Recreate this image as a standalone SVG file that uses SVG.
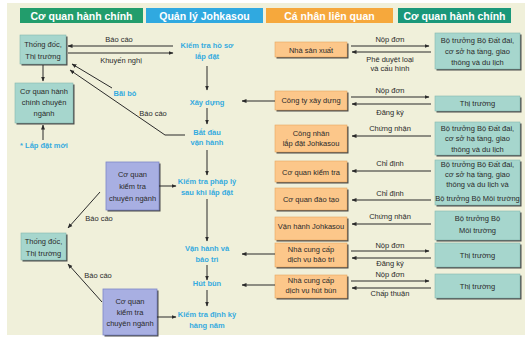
<svg xmlns="http://www.w3.org/2000/svg" width="525" height="345" viewBox="0 0 525 345">
  <defs>
    <marker id="ah" viewBox="0 0 10 10" refX="9" refY="5" markerWidth="5" markerHeight="5" orient="auto-start-reverse" markerUnits="userSpaceOnUse">
      <path d="M0,1 L10,5 L0,9 Z" fill="#2b2b2b"/>
    </marker>
    <style>
      text { font-family: "Liberation Sans", Arial, sans-serif; }
      .hd { font-size: 10.5px; font-weight: bold; fill: #ffffff; text-anchor: middle; }
      .lb { font-size: 7.5px; fill: #2a2a2a; text-anchor: middle; }
      .st { font-size: 7.5px; font-weight: bold; fill: #35abdf; text-anchor: middle; }
      .sh { fill: #4a4a4a; }
      .tl { fill: #a6d6cd; stroke: #86b8ae; stroke-width: 0.6; }
      .or { fill: #fcc78a; stroke: #e6a960; stroke-width: 0.6; }
      .pu { fill: #a8afe2; stroke: #7d87c8; stroke-width: 0.8; }
      .ln { fill: none; stroke: #2b2b2b; stroke-width: 1; }
      .ar { fill: none; stroke: #2b2b2b; stroke-width: 1; marker-end: url(#ah); }
    </style>
  </defs>

  <!-- page and panel -->
  <rect x="0" y="0" width="525" height="345" fill="#ffffff"/>
  <rect x="7" y="3" width="518" height="332" fill="#f0f0da"/>

  <!-- column headers -->
  <g id="headers">
    <rect x="20" y="8" width="123" height="15" fill="#229d6c"/>
    <text class="hd" x="81.5" y="19.5">Cơ quan hành chính</text>
    <rect x="146" y="8" width="117" height="15" fill="#30a9e0"/>
    <text class="hd" x="204.5" y="19.5">Quản lý Johkasou</text>
    <rect x="266" y="8" width="127" height="15" fill="#f6a83c"/>
    <text class="hd" x="329.5" y="19.5">Cá nhân liên quan</text>
    <rect x="398" y="8" width="113" height="15" fill="#1a987a"/>
    <text class="hd" x="454.5" y="19.5">Cơ quan hành chính</text>
  </g>

  <!-- left column: administrative bodies -->
  <g id="gov-1">
    <rect class="sh" x="21.5" y="36.5" width="46" height="29"/>
    <rect class="tl" x="20" y="35" width="46" height="29"/>
    <text class="lb" x="43" y="47">Thống đốc,</text>
    <text class="lb" x="43" y="59">Thị trường</text>
  </g>
  <g id="spec-admin">
    <rect class="sh" x="16.5" y="84.5" width="58" height="40"/>
    <rect class="tl" x="15" y="83" width="58" height="40"/>
    <text class="lb" x="44" y="94">Cơ quan hành</text>
    <text class="lb" x="44" y="105">chính chuyên</text>
    <text class="lb" x="44" y="116">ngành</text>
  </g>
  <g id="new-install">
    <text class="st" x="44" y="148">* Lắp đặt mới</text>
  </g>
  <g id="inspect-1">
    <rect class="sh" x="107.5" y="163.5" width="53" height="48"/>
    <rect class="pu" x="106" y="162" width="53" height="48"/>
    <text class="lb" x="132.5" y="177">Cơ quan</text>
    <text class="lb" x="132.5" y="189">kiểm tra</text>
    <text class="lb" x="132.5" y="201">chuyên ngành</text>
  </g>
  <g id="gov-2">
    <rect class="sh" x="22.5" y="234.5" width="45" height="27"/>
    <rect class="tl" x="21" y="233" width="45" height="27"/>
    <text class="lb" x="43.5" y="244">Thống đốc,</text>
    <text class="lb" x="43.5" y="256">Thị trường</text>
  </g>
  <g id="inspect-2">
    <rect class="sh" x="104.5" y="290.5" width="54" height="46"/>
    <rect class="pu" x="103" y="289" width="54" height="46"/>
    <text class="lb" x="130" y="304">Cơ quan</text>
    <text class="lb" x="130" y="315">kiểm tra</text>
    <text class="lb" x="130" y="326">chuyên ngành</text>
  </g>

  <!-- centre column: Johkasou stages -->
  <g id="stage-review"><text class="st" x="207" y="48">Kiểm tra hồ sơ</text><text class="st" x="207" y="59">lắp đặt</text></g>
  <g id="stage-build"><text class="st" x="207" y="105">Xây dựng</text></g>
  <g id="stage-start"><text class="st" x="207" y="135">Bắt đầu</text><text class="st" x="207" y="145">vận hành</text></g>
  <g id="stage-legal"><text class="st" x="207" y="184">Kiểm tra pháp lý</text><text class="st" x="207" y="195">sau khi lắp đặt</text></g>
  <g id="stage-operate"><text class="st" x="207" y="251">Vận hành và</text><text class="st" x="207" y="262">bảo trì</text></g>
  <g id="stage-sludge"><text class="st" x="207" y="286">Hút bùn</text></g>
  <g id="stage-annual"><text class="st" x="207" y="317">Kiểm tra định kỳ</text><text class="st" x="207" y="328">hàng năm</text></g>

  <!-- related parties -->
  <g id="maker">
    <rect class="sh" x="276.5" y="43.5" width="72" height="15"/>
    <rect class="or" x="275" y="42" width="72" height="15"/>
    <text class="lb" x="311" y="52.5">Nhà sản xuất</text>
  </g>
  <g id="builder">
    <rect class="sh" x="276.5" y="92.5" width="72" height="19"/>
    <rect class="or" x="275" y="91" width="72" height="19"/>
    <text class="lb" x="311" y="103">Công ty xây dựng</text>
  </g>
  <g id="installer">
    <rect class="sh" x="276.5" y="126.5" width="72" height="27"/>
    <rect class="or" x="275" y="125" width="72" height="27"/>
    <text class="lb" x="311" y="136">Công nhân</text>
    <text class="lb" x="311" y="145.5">lắp đặt Johkasou</text>
  </g>
  <g id="inspector">
    <rect class="sh" x="276.5" y="162.5" width="72" height="21"/>
    <rect class="or" x="275" y="161" width="72" height="21"/>
    <text class="lb" x="311" y="174.5">Cơ quan kiểm tra</text>
  </g>
  <g id="trainer">
    <rect class="sh" x="276.5" y="189.5" width="72" height="22"/>
    <rect class="or" x="275" y="188" width="72" height="22"/>
    <text class="lb" x="311" y="202">Cơ quan đào tạo</text>
  </g>
  <g id="operator">
    <rect class="sh" x="276.5" y="218.5" width="72" height="23"/>
    <rect class="or" x="275" y="217" width="72" height="23"/>
    <text class="lb" x="311" y="228.5">Vận hành Johkasou</text>
  </g>
  <g id="maint-provider">
    <rect class="sh" x="276.5" y="244.5" width="72" height="24"/>
    <rect class="or" x="275" y="243" width="72" height="24"/>
    <text class="lb" x="311" y="252">Nhà cung cấp</text>
    <text class="lb" x="311" y="262">dịch vụ bảo trì</text>
  </g>
  <g id="sludge-provider">
    <rect class="sh" x="276.5" y="276.5" width="72" height="23"/>
    <rect class="or" x="275" y="275" width="72" height="23"/>
    <text class="lb" x="311" y="283">Nhà cung cấp</text>
    <text class="lb" x="311" y="292.5">dịch vụ hút bùn</text>
  </g>

  <!-- right column: ministries and mayors -->
  <g id="min-land-1">
    <rect class="sh" x="436.5" y="34.5" width="85" height="36"/>
    <rect class="tl" x="435" y="33" width="85" height="36"/>
    <text class="lb" x="477.5" y="43">Bộ trưởng Bộ Đất đai,</text>
    <text class="lb" x="477.5" y="54">cơ sở hạ tầng, giao</text>
    <text class="lb" x="477.5" y="65">thông và du lịch</text>
  </g>
  <g id="mayor-1">
    <rect class="sh" x="436.5" y="97.5" width="85" height="15"/>
    <rect class="tl" x="435" y="96" width="85" height="15"/>
    <text class="lb" x="477.5" y="106">Thị trường</text>
  </g>
  <g id="min-land-2">
    <rect class="sh" x="436.5" y="123.5" width="85" height="33"/>
    <rect class="tl" x="435" y="122" width="85" height="33"/>
    <text class="lb" x="477.5" y="130.5">Bộ trưởng Bộ Đất đai,</text>
    <text class="lb" x="477.5" y="141">cơ sở hạ tầng, giao</text>
    <text class="lb" x="477.5" y="151.5">thông và du lịch</text>
  </g>
  <g id="min-land-env">
    <rect class="sh" x="436.5" y="161.5" width="85" height="45"/>
    <rect class="tl" x="435" y="160" width="85" height="45"/>
    <text class="lb" x="477.5" y="167">Bộ trưởng Bộ Đất đai,</text>
    <text class="lb" x="477.5" y="177">cơ sở hạ tầng, giao</text>
    <text class="lb" x="477.5" y="187">thông và du lịch và</text>
    <text class="lb" x="477.5" y="201">Bộ trưởng Bộ Môi trường</text>
  </g>
  <g id="min-env">
    <rect class="sh" x="436.5" y="212.5" width="85" height="29"/>
    <rect class="tl" x="435" y="211" width="85" height="29"/>
    <text class="lb" x="477.5" y="221">Bộ trưởng Bộ</text>
    <text class="lb" x="477.5" y="233">Môi trường</text>
  </g>
  <g id="mayor-2">
    <rect class="sh" x="436.5" y="244.5" width="85" height="24"/>
    <rect class="tl" x="435" y="243" width="85" height="24"/>
    <text class="lb" x="477.5" y="257.5">Thị trường</text>
  </g>
  <g id="mayor-3">
    <rect class="sh" x="436.5" y="275.5" width="85" height="24"/>
    <rect class="tl" x="435" y="274" width="85" height="24"/>
    <text class="lb" x="477.5" y="288.5">Thị trường</text>
  </g>

  <!-- connectors -->
  <g id="connectors">
    <!-- left side -->
    <line class="ar" x1="173" y1="46" x2="68" y2="46"/>
    <line class="ar" x1="68" y1="53" x2="173" y2="53"/>
    <line class="ar" x1="43" y1="65" x2="43" y2="81"/>
    <line class="ar" x1="43" y1="140" x2="43" y2="125"/>
    <line class="ar" x1="112" y1="88" x2="72" y2="64"/>
    <polyline class="ar" points="185,135 165,135 70,70"/>
    <line class="ar" x1="159" y1="186" x2="176" y2="186"/>
    <line class="ar" x1="100" y1="192" x2="68" y2="228"/>
    <line class="ar" x1="102" y1="302" x2="68" y2="264"/>
    <line class="ar" x1="157" y1="317" x2="176" y2="317"/>

    <!-- centre flow -->
    <line class="ar" x1="207" y1="66" x2="207" y2="90"/>
    <line class="ar" x1="207" y1="108" x2="207" y2="124"/>
    <line class="ar" x1="207" y1="150" x2="207" y2="175"/>
    <line class="ar" x1="207" y1="199" x2="207" y2="241"/>
    <line class="ar" x1="207" y1="265" x2="207" y2="280"/>
    <line class="ar" x1="207" y1="290" x2="207" y2="306"/>

    <!-- parties into stages -->
    <line class="ar" x1="275" y1="101" x2="242" y2="101"/>
    <line class="ar" x1="275" y1="254" x2="242" y2="254"/>
    <line class="ar" x1="275" y1="285" x2="242" y2="285"/>

    <!-- parties and authorities -->
    <line class="ar" x1="351" y1="46" x2="429" y2="46"/>
    <line class="ar" x1="431" y1="52" x2="352" y2="52"/>
    <line class="ar" x1="351" y1="97" x2="429" y2="97"/>
    <line class="ar" x1="431" y1="104" x2="352" y2="104"/>
    <line class="ar" x1="431" y1="136" x2="352" y2="136"/>
    <line class="ar" x1="431" y1="171" x2="352" y2="171"/>
    <line class="ar" x1="431" y1="200" x2="352" y2="200"/>
    <line class="ar" x1="431" y1="224" x2="352" y2="224"/>
    <line class="ar" x1="351" y1="251" x2="429" y2="251"/>
    <line class="ar" x1="431" y1="258" x2="352" y2="258"/>
    <line class="ar" x1="351" y1="281" x2="429" y2="281"/>
    <line class="ar" x1="431" y1="288" x2="352" y2="288"/>

    <!-- connector labels -->
    <text class="lb" x="119" y="42">Báo cáo</text>
    <text class="lb" x="121" y="63">Khuyến nghị</text>
    <text class="st" x="125" y="96">Bãi bỏ</text>
    <text class="lb" x="153" y="116">Báo cáo</text>
    <text class="lb" x="99" y="221">Báo cáo</text>
    <text class="lb" x="98" y="278">Báo cáo</text>

    <text class="lb" x="390" y="42">Nộp đơn</text>
    <text class="lb" x="390" y="62">Phê duyệt loại</text>
    <text class="lb" x="390" y="71">và cấu hình</text>
    <text class="lb" x="390" y="93">Nộp đơn</text>
    <text class="lb" x="390" y="115">Đăng ký</text>
    <text class="lb" x="390" y="131">Chứng nhận</text>
    <text class="lb" x="390" y="166">Chỉ định</text>
    <text class="lb" x="390" y="196">Chỉ định</text>
    <text class="lb" x="390" y="219">Chứng nhận</text>
    <text class="lb" x="390" y="248">Nộp đơn</text>
    <text class="lb" x="390" y="266">Đăng ký</text>
    <text class="lb" x="390" y="277">Nộp đơn</text>
    <text class="lb" x="390" y="296">Chấp thuận</text>
  </g>
</svg>
